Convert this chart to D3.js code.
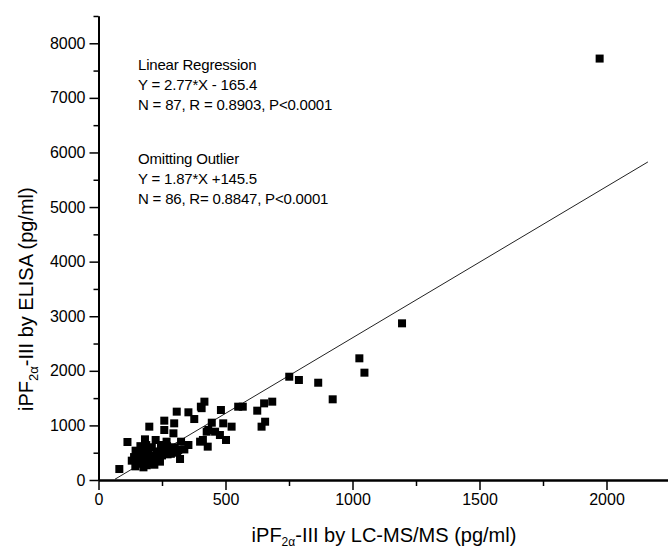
<!DOCTYPE html>
<html>
<head>
<meta charset="utf-8">
<script src="https://cdn.jsdelivr.net/npm/d3@7"></script>
<style>
  html, body { margin: 0; padding: 0; background: #fff; }
  svg { display: block; font-family: "Liberation Sans", Arial, sans-serif; }
</style>
</head>
<body>
<svg id="chart" width="668" height="552"></svg>
<script>
// ---- data ----
const lcms = [
  82, 114, 131, 146, 150, 161, 177, 183, 181, 196, 200, 209, 225, 229, 242, 246,
  259, 259, 268, 281, 298, 295, 308, 314, 321, 325, 354, 354, 377, 400, 403, 417,
  430, 432, 446, 482, 478, 491, 406, 426, 459, 524, 502, 411, 550, 568, 625, 652,
  684, 642, 656, 751, 789, 865, 922, 1027, 1047, 1195, 1973,
  140, 155, 165, 170, 175, 185, 190, 195, 200, 205, 210, 215, 220, 230, 235, 240,
  250, 260, 270, 285, 300, 310, 165, 145, 188, 222, 272, 338
];
const elisa = [
  201, 696, 354, 537, 305, 427, 232, 745, 580, 427, 977, 324, 733, 519, 336, 641,
  1087, 916, 702, 550, 1038, 855, 1252, 550, 385, 702, 641, 1240, 1117, 702, 1343, 1435,
  611, 916, 1050, 1282, 824, 1038, 1316, 885, 885, 977, 733, 733, 1343, 1343, 1270, 1404,
  1435, 977, 1068, 1892, 1832, 1782, 1478, 2229, 1966, 2870, 7720,
  420, 380, 300, 480, 400, 350, 270, 520, 300, 450, 600, 400, 280, 450, 380, 520,
  450, 560, 620, 480, 600, 500, 620, 250, 640, 360, 470, 560
];
const points = lcms.map((x, i) => ({ x, y: elisa[i] }));

const xMajorTicks = [0, 500, 1000, 1500, 2000];
const xMinorTicks = [250, 750, 1250, 1750, 2250];
const yMajorTicks = [0, 1000, 2000, 3000, 4000, 5000, 6000, 7000, 8000];
const yMinorTicks = [500, 1500, 2500, 3500, 4500, 5500, 6500, 7500, 8500];

const fitSlope = 2.77, fitIntercept = -165.4;
const fitRange = [65, 2163];

const annotations = [
  "Linear Regression",
  "Y = 2.77*X - 165.4",
  "N = 87, R = 0.8903, P<0.0001",
  "",
  "Omitting Outlier",
  "Y = 1.87*X +145.5",
  "N = 86, R= 0.8847, P<0.0001"
];

// ---- layout ----
const svg = d3.select("#chart");
const x = d3.scaleLinear().domain([0, 2250]).range([98.5, 98.5 + 2250 * 0.254]);
const y = d3.scaleLinear().domain([0, 8500]).range([480, 480 - 8500 * 0.05459]);

// regression line
const line = d3.line().x(d => x(d[0])).y(d => y(d[1]));
svg.append("path")
  .datum(fitRange.map(v => [v, fitSlope * v + fitIntercept]))
  .attr("d", line)
  .attr("fill", "none")
  .attr("stroke", "#222")
  .attr("stroke-width", 1);

// x axis
const gx = svg.append("g").attr("transform", `translate(0,${y(0)})`);
gx.call(d3.axisBottom(x).tickValues(xMajorTicks).tickSize(10).tickSizeOuter(0).tickPadding(4).tickFormat(d3.format("d")));
gx.append("g").call(d3.axisBottom(x).tickValues(xMinorTicks).tickSize(6).tickSizeOuter(0).tickFormat(""));
gx.selectAll(".domain").attr("stroke", "#000").attr("stroke-width", 2);
gx.selectAll(".tick line").attr("stroke", "#000").attr("stroke-width", 1.5);
gx.selectAll(".tick text").attr("font-size", 16).attr("fill", "#000")
  .attr("font-family", "Liberation Sans, Arial, sans-serif");

// y axis
const gy = svg.append("g").attr("transform", `translate(${x(0)},0)`);
gy.call(d3.axisLeft(y).tickValues(yMajorTicks).tickSize(9).tickSizeOuter(0).tickPadding(4).tickFormat(d3.format("d")));
gy.append("g").call(d3.axisLeft(y).tickValues(yMinorTicks).tickSize(5).tickSizeOuter(0).tickFormat(""));
gy.selectAll(".domain").attr("stroke", "#000").attr("stroke-width", 2);
gy.selectAll(".tick line").attr("stroke", "#000").attr("stroke-width", 1.5);
gy.selectAll(".tick text").attr("font-size", 16).attr("fill", "#000")
  .attr("font-family", "Liberation Sans, Arial, sans-serif");

// points
const sz = 8;
svg.append("g").selectAll("rect")
  .data(points)
  .join("rect")
  .attr("x", d => x(d.x) - sz / 2)
  .attr("y", d => y(d.y) - sz / 2)
  .attr("width", sz)
  .attr("height", sz)
  .attr("fill", "#000");

// annotations
const ann = svg.append("g").attr("font-size", 15).attr("fill", "#000");
annotations.forEach((t, i) => {
  if (!t) return;
  const base = i < 3 ? 69.5 + i * 20.3 : 163.5 + (i - 4) * 20;
  ann.append("text").attr("x", 138).attr("y", base).attr("letter-spacing", -0.2).text(t);
});

// x axis title
const xt = svg.append("text")
  .attr("x", 384).attr("y", 542)
  .attr("text-anchor", "middle")
  .attr("font-size", 20).attr("fill", "#000");
xt.append("tspan").text("iPF");
xt.append("tspan").attr("font-size", 12).attr("dy", 4).text("2α");
xt.append("tspan").attr("dy", -4).text("-III by LC-MS/MS (pg/ml)");

// y axis title
const yt = svg.append("text")
  .attr("transform", "translate(33,411) rotate(-90)")
  .attr("text-anchor", "start")
  .attr("font-size", 20).attr("fill", "#000");
yt.append("tspan").text("iPF");
yt.append("tspan").attr("font-size", 13).attr("dy", 5).text("2α");
yt.append("tspan").attr("dy", -5).text("-III by ELISA (pg/ml)");
</script>
</body>
</html>
